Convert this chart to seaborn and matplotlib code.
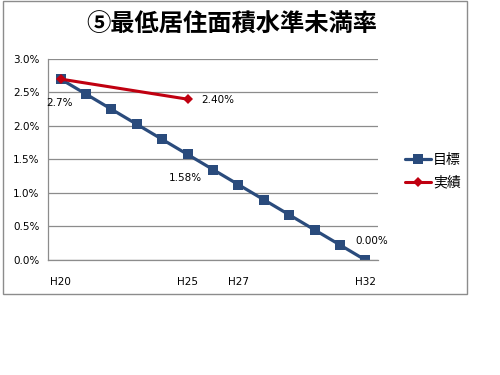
import numpy as np
import pandas as pd
import matplotlib
matplotlib.use("Agg")
import matplotlib.pyplot as plt
import seaborn as sns
from matplotlib.patches import Rectangle
from matplotlib.lines import Line2D

# data
years = ['H20', 'H21', 'H22', 'H23', 'H24', 'H25', 'H26',
         'H27', 'H28', 'H29', 'H30', 'H31', 'H32']
shown_ticks = ['H20', 'H25', 'H27', 'H32']
target = [2.7, 2.475, 2.25, 2.025, 1.8, 1.575, 1.35,
          1.125, 0.9, 0.675, 0.45, 0.225, 0.0]
actual = [2.7, np.nan, np.nan, np.nan, np.nan, 2.4, np.nan,
          np.nan, np.nan, np.nan, np.nan, np.nan, np.nan]
target_name = '目標'
actual_name = '実績'
title = '⑤最低居住面積水準未満率'

blue = '#2A4B7C'
red = '#C00010'
grid = '#8C8C8C'

sns.set_style("white")
plt.rcParams['font.family'] = ['Noto Sans CJK JP', 'DejaVu Sans']
plt.rcParams['text.color'] = 'black'

df = pd.DataFrame({'pos': np.arange(len(years)), 'year': years,
                   'target': target, 'actual': actual})
df_act = df.dropna(subset=['actual'])

fig = plt.figure(figsize=(5, 3.75), dpi=100)
ax = fig.add_axes([0.096, 0.3067, 0.66, 0.536])

sns.lineplot(data=df, x='pos', y='target', ax=ax, color=blue, lw=2.3,
             marker='s', markersize=7, markeredgewidth=0, label=target_name)
sns.lineplot(data=df_act, x='pos', y='actual', ax=ax, color=red, lw=2.2,
             marker='D', markersize=5.5, markeredgewidth=0, label=actual_name)

ax.set_xlim(-0.5, len(years) - 0.5)
ax.set_ylim(0, 3.0)
ax.set_yticks(np.arange(0, 3.01, 0.5))
ax.set_yticklabels([f'{v:.1f}%' for v in np.arange(0, 3.01, 0.5)])
ax.set_xticks(df['pos'])
ax.set_xticklabels([y if y in shown_ticks else '' for y in years])
ax.tick_params(axis='both', length=0, labelsize=7.5, colors='black')
ax.tick_params(axis='x', pad=12)
ax.tick_params(axis='y', pad=6)
for t in ax.get_xticklabels() + ax.get_yticklabels():
    t.set_family('DejaVu Sans')
ax.set_xlabel('')
ax.set_ylabel('')
ax.yaxis.grid(True, color=grid, lw=0.9)
ax.set_axisbelow(True)
for s in ['top', 'right']:
    ax.spines[s].set_visible(False)
for s in ['left', 'bottom']:
    ax.spines[s].set_color(grid)
    ax.spines[s].set_linewidth(0.9)

# data labels
def lab(i, v, txt, dx, dy, ha='center'):
    ax.annotate(txt, (i, v), xytext=(dx, dy), textcoords='offset pixels',
                ha=ha, va='center', fontsize=7.5, family='DejaVu Sans', color='black')

lab(0, target[0], '2.7%', -1, -24)
lab(5, actual[5], '2.40%', 14, -1, ha='left')
lab(5, target[5], '1.58%', -2, -24)
lab(12, target[12], '0.00%', 6, 19)

ax.get_legend().remove()
handles = [Line2D([], [], color=blue, lw=2.3, marker='s', markersize=7, markeredgewidth=0),
           Line2D([], [], color=red, lw=2.2, marker='D', markersize=5.5, markeredgewidth=0)]
fig.legend(handles, [target_name, actual_name], loc='upper left',
           bbox_to_anchor=(0.785, 0.625), frameon=False, fontsize=10,
           handlelength=1.9, handletextpad=0.1, labelspacing=0.6)

fig.text(0.464, 0.933, title, ha='center', va='center', fontsize=17.5,
         fontweight='bold', color='black')

fig.patches.append(Rectangle((0.006, 0.216), 0.928, 0.781, transform=fig.transFigure,
                             fill=False, edgecolor='#8C8C8C', lw=1.0))

fig.savefig('out.png', dpi=100)
